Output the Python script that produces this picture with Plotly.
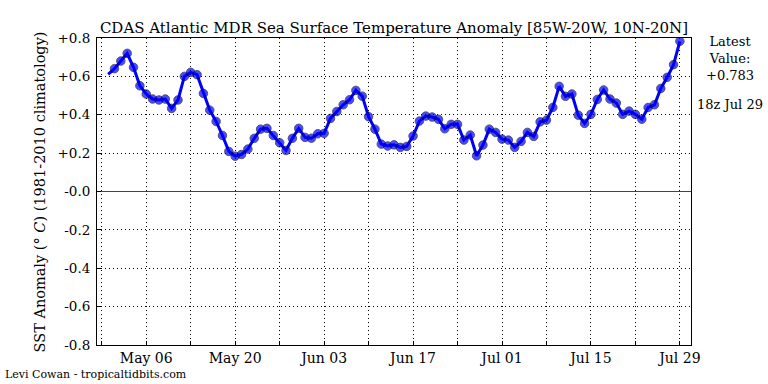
import plotly.graph_objects as go
import pandas as pd

# ---- data ----
start_date = "2023-04-30"
sst_anomaly = [
    0.610,
    0.640, 0.680, 0.720, 0.647, 0.551, 0.508, 0.482, 0.477, 0.482, 0.433,
    0.477, 0.600, 0.621, 0.609, 0.511, 0.424, 0.365, 0.292, 0.209, 0.184,
    0.193, 0.221, 0.277, 0.325, 0.329, 0.292, 0.254, 0.214, 0.277, 0.329,
    0.282,
    0.278, 0.301, 0.303, 0.381, 0.417, 0.452, 0.478, 0.527, 0.497, 0.390,
    0.325, 0.247, 0.237, 0.243, 0.230, 0.235, 0.289, 0.367, 0.393, 0.388,
    0.376, 0.327, 0.350, 0.350, 0.268, 0.294, 0.186, 0.242, 0.325, 0.308,
    0.273, 0.268, 0.230, 0.261, 0.308, 0.287, 0.363, 0.372, 0.438, 0.548,
    0.496, 0.508, 0.398, 0.355, 0.402, 0.480, 0.529, 0.482, 0.461, 0.402,
    0.419, 0.402, 0.377, 0.438, 0.452, 0.537, 0.595, 0.661, 0.783,
]
dates = pd.date_range(start_date, periods=len(sst_anomaly), freq="D")

x_tick_dates = ["2023-04-29", "2023-05-06", "2023-05-13", "2023-05-20", "2023-05-27",
                "2023-06-03", "2023-06-10", "2023-06-17", "2023-06-24", "2023-07-01",
                "2023-07-08", "2023-07-15", "2023-07-22", "2023-07-29"]
x_tick_labels = ["", "May 06", "", "May 20", "", "Jun 03", "", "Jun 17", "",
                 "Jul 01", "", "Jul 15", "", "Jul 29"]
y_tick_values = [0.8, 0.6, 0.4, 0.2, 0.0, -0.2, -0.4, -0.6, -0.8]
y_tick_labels = ["+0.8", "+0.6", "+0.4", "+0.2", "-0.0", "-0.2", "-0.4", "-0.6", "-0.8"]

title_text = "CDAS Atlantic MDR Sea Surface Temperature Anomaly [85W-20W, 10N-20N]"
latest_text = "Latest<br>Value:<br>+0.783"
latest_time = "18z Jul 29"
credit_text = "Levi Cowan - tropicaltidbits.com"

FONT = "DejaVu Serif"

# first point drawn by line only
marker_sizes = [0] + [8.5] * (len(sst_anomaly) - 1)

fig = go.Figure()
fig.add_trace(go.Scatter(
    x=dates, y=sst_anomaly, mode="lines+markers",
    line=dict(color="#0000ff", width=3),
    marker=dict(color="#0000ff", size=marker_sizes,
                line=dict(color="#00002a", width=0.9)),
    showlegend=False, hoverinfo="x+y",
))

fig.update_layout(
    width=768, height=384,
    margin=dict(l=97, r=77, t=38, b=39),
    paper_bgcolor="white", plot_bgcolor="white",
    font=dict(family=FONT, color="black", size=13),
    title=dict(text=title_text, x=0.5, xanchor="center", xref="paper",
               y=1, yref="paper", yanchor="bottom", pad=dict(b=5),
               font=dict(family=FONT, size=15, color="black")),
)

fig.update_xaxes(
    range=["2023-04-28 06:00", "2023-07-30 18:00"],
    tickmode="array", tickvals=x_tick_dates, ticktext=x_tick_labels,
    ticks="inside", ticklen=4, tickcolor="black",
    showgrid=True, gridcolor="black", griddash="1px,3px", gridwidth=1,
    showline=True, linecolor="black", linewidth=1, mirror=True,
    zeroline=False, tickfont=dict(family=FONT, size=14),
)
fig.update_yaxes(
    range=[-0.8, 0.8],
    tickmode="array", tickvals=y_tick_values, ticktext=y_tick_labels,
    ticks="inside", ticklen=4, tickcolor="black",
    showgrid=True, gridcolor="black", griddash="1px,3px", gridwidth=1,
    showline=True, linecolor="black", linewidth=1, mirror=True,
    zeroline=True, zerolinecolor="#444444", zerolinewidth=1,
    tickfont=dict(family=FONT, size=13.5), ticklabelstandoff=3,
)

fig.add_annotation(
    text="SST Anomaly (° <i>C</i>) (1981-2010 climatology)",
    xref="paper", yref="paper", x=-0.096, y=0.5, textangle=-90,
    showarrow=False, xanchor="center", yanchor="middle",
    font=dict(family=FONT, size=14.5),
)
fig.add_annotation(
    text=latest_text, xref="paper", yref="paper", x=1.0657, y=1.02,
    xanchor="center", yanchor="top", showarrow=False,
    font=dict(family=FONT, size=13),
)
fig.add_annotation(
    text=latest_time, xref="paper", yref="paper", x=1.0657, y=0.782,
    xanchor="center", yanchor="middle", showarrow=False,
    font=dict(family=FONT, size=13),
)
fig.add_annotation(
    text=credit_text, xref="paper", yref="paper", x=-0.158, y=-0.0977,
    xanchor="left", yanchor="middle", showarrow=False,
    font=dict(family=FONT, size=11),
)

fig.write_html("out.html", config={"displayModeBar": False},
               post_script="document.body.style.margin='0px';")
